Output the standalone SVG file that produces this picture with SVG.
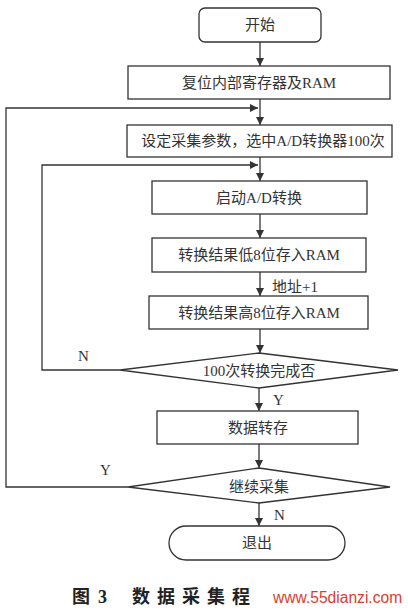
<svg xmlns="http://www.w3.org/2000/svg" width="408" height="613" viewBox="0 0 408 613">
<style>
.box{fill:#fff;stroke:#333;stroke-width:1.3}
.ln{fill:none;stroke:#333;stroke-width:1.3}
.t{font-family:"Liberation Serif","Noto Sans CJK SC",serif;font-size:15px;fill:#333;text-anchor:middle;dominant-baseline:central}
.lb{font-family:"Liberation Serif","Noto Sans CJK SC",serif;font-size:15px;fill:#333;dominant-baseline:central}
.cap{font-family:"Liberation Serif","Noto Sans CJK SC",serif;font-size:18px;fill:#222;font-weight:bold;dominant-baseline:central}
.wm{font-family:"Liberation Sans",sans-serif;font-size:15.6px;fill:#e23a2e;dominant-baseline:central}
</style>
<defs>
<marker id="ah" viewBox="0 0 10 10" refX="10" refY="5" markerWidth="8" markerHeight="8" markerUnits="userSpaceOnUse" orient="auto">
<path d="M0,0 L10,5 L0,10 z" fill="#333"/>
</marker>
</defs>
<rect width="408" height="613" fill="#fff"/>
<g id="connectors">
<line class="ln" x1="260" y1="42" x2="260" y2="66" marker-end="url(#ah)"/>
<line class="ln" x1="260" y1="99" x2="260" y2="125" marker-end="url(#ah)"/>
<polyline class="ln" points="128,487 6,487 6,108 258,108" marker-end="url(#ah)"/>
<line class="ln" x1="260" y1="157" x2="260" y2="181" marker-end="url(#ah)"/>
<polyline class="ln" points="120,370 42,370 42,165 258,165" marker-end="url(#ah)"/>
<line class="ln" x1="260" y1="214" x2="260" y2="238" marker-end="url(#ah)"/>
<line class="ln" x1="260" y1="272" x2="260" y2="296" marker-end="url(#ah)"/>
<text class="lb" x="272" y="287">地址+1</text>
<line class="ln" x1="260" y1="329" x2="260" y2="353" marker-end="url(#ah)"/>
<text class="lb" x="78" y="356">N</text>
<line class="ln" x1="259" y1="388" x2="259" y2="411" marker-end="url(#ah)"/>
<text class="lb" x="273" y="400">Y</text>
<line class="ln" x1="259" y1="444" x2="259" y2="468" marker-end="url(#ah)"/>
<text class="lb" x="100" y="470">Y</text>
<line class="ln" x1="259" y1="503" x2="259" y2="526" marker-end="url(#ah)"/>
<text class="lb" x="274" y="515">N</text>
</g>
<g id="start">
<rect class="box" x="199" y="8" width="122" height="34" rx="6"/>
<text class="t" x="260" y="25">开始</text>
</g>
<g id="reset">
<rect class="box" x="128" y="66" width="262" height="33"/>
<text class="t" x="259" y="83">复位内部寄存器及RAM</text>
</g>
<g id="setup">
<rect class="box" x="127" y="125" width="265" height="32"/>
<text class="t" x="263" y="141">设定采集参数，选中A/D转换器100次</text>
</g>
<g id="startad">
<rect class="box" x="152" y="181" width="215" height="33"/>
<text class="t" x="259" y="198">启动A/D转换</text>
</g>
<g id="low">
<rect class="box" x="152" y="238" width="214" height="34"/>
<text class="t" x="259" y="255">转换结果低8位存入RAM</text>
</g>
<g id="high">
<rect class="box" x="149" y="296" width="219" height="33"/>
<text class="t" x="259" y="313">转换结果高8位存入RAM</text>
</g>
<g id="done100">
<polygon class="box" points="259,353 398,370 259,388 120,370"/>
<text class="t" x="259" y="371">100次转换完成否</text>
</g>
<g id="store">
<rect class="box" x="157" y="411" width="201" height="33"/>
<text class="t" x="258" y="428">数据转存</text>
</g>
<g id="continue">
<polygon class="box" points="259,468 390,487 259,503 128,487"/>
<text class="t" x="259" y="487">继续采集</text>
</g>
<g id="exit">
<rect class="box" x="169" y="526" width="176" height="34" rx="17"/>
<text class="t" x="257" y="543">退出</text>
</g>
<g id="caption">
<text class="cap" x="72" y="597">图</text>
<text class="cap" x="98" y="597">3</text>
<text class="cap" x="132" y="597" letter-spacing="7">数据采集程</text>
<text class="wm" x="273" y="597">www.55dianzi.com</text>
</g>
</svg>
